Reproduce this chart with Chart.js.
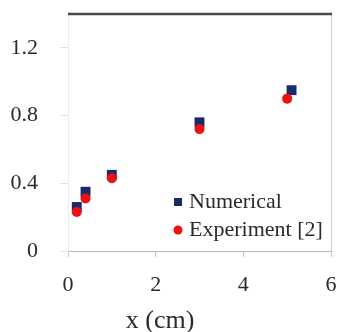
<!DOCTYPE html>
<html>
<head>
<meta charset="utf-8">
<script src="https://cdn.jsdelivr.net/npm/chart.js@4/dist/chart.umd.min.js"></script>
<style>
  html, body { margin: 0; padding: 0; background: #fff; }
  #wrap { width: 339px; height: 332px; }
</style>
</head>
<body>
<div id="wrap"><canvas id="chart"></canvas></div>
<script>
// series read as (x in cm, value)
const numericalX = [0.2, 0.4, 1.0, 3.0, 5.1];
const numericalY = [0.26, 0.35, 0.45, 0.76, 0.95];
const experimentX = [0.2, 0.4, 1.0, 3.0, 5.0];
const experimentY = [0.23, 0.31, 0.43, 0.72, 0.90];
const seriesLabels = ["Numerical", "Experiment [2]"];
const xTicks = [0, 2, 4, 6];
const yTicks = [0, 0.4, 0.8, 1.2];
const xTitle = "x (cm)";

const FONT = "'Liberation Serif', 'Times New Roman', serif";
const NAVY = "#1b2a68";
const RED = "#f01010";

const toPoints = (xs, ys) => xs.map((x, i) => ({ x: x, y: ys[i] }));

// top frame line, right border, legend and x title
const framePlugin = {
  id: "frame",
  afterDraw(chart) {
    const { ctx, chartArea: a } = chart;
    ctx.save();
    ctx.strokeStyle = "#d0d0d0";
    ctx.lineWidth = 1;
    ctx.beginPath();
    ctx.moveTo(a.right + 0.5, a.top);
    ctx.lineTo(a.right + 0.5, a.bottom);
    ctx.stroke();

    ctx.strokeStyle = "#4a4a4a";
    ctx.lineWidth = 2.5;
    ctx.beginPath();
    ctx.moveTo(a.left, a.top);
    ctx.lineTo(a.right + 1, a.top);
    ctx.stroke();

    // legend inside the plot, lower right
    const lx = a.right - 153;
    const rows = [a.bottom - 49, a.bottom - 21];
    ctx.font = "22px " + FONT;
    ctx.textBaseline = "middle";
    ctx.textAlign = "left";
    chart.data.datasets.forEach((ds, i) => {
      const y = rows[i];
      ctx.fillStyle = ds.backgroundColor;
      if (ds.pointStyle === "rect") {
        ctx.fillRect(lx - 4, y - 4, 8, 8);
      } else {
        ctx.beginPath();
        ctx.arc(lx, y, 4.5, 0, Math.PI * 2);
        ctx.fill();
      }
      ctx.fillStyle = "#2a2a2a";
      ctx.fillText(ds.label, lx + 11, y);
    });

    ctx.font = "26px " + FONT;
    ctx.textAlign = "center";
    ctx.fillStyle = "#2a2a2a";
    ctx.fillText(xTitle, a.left + (a.right - a.left) * 0.35, 321);
    ctx.restore();
  }
};

new Chart(document.getElementById("chart"), {
  type: "scatter",
  data: {
    datasets: [
      {
        label: seriesLabels[0],
        data: toPoints(numericalX, numericalY),
        pointStyle: "rect",
        pointRadius: 7,
        pointHoverRadius: 7,
        backgroundColor: NAVY,
        borderColor: NAVY,
        borderWidth: 0,
        order: 1
      },
      {
        label: seriesLabels[1],
        data: toPoints(experimentX, experimentY),
        pointStyle: "circle",
        pointRadius: 5,
        pointHoverRadius: 5,
        backgroundColor: RED,
        borderColor: RED,
        borderWidth: 0,
        order: 0
      }
    ]
  },
  options: {
    responsive: true,
    maintainAspectRatio: false,
    animation: false,
    events: [],
    layout: { padding: { top: 14, right: 8, left: 0, bottom: 0 } },
    plugins: {
      legend: { display: false },
      tooltip: { enabled: false }
    },
    scales: {
      x: {
        type: "linear",
        min: xTicks[0],
        max: xTicks[xTicks.length - 1],
        afterFit: (scale) => {
          scale.height = 81;
          scale.paddingLeft = 0;
          scale.paddingRight = 0;
        },
        afterBuildTicks: (scale) => { scale.ticks = xTicks.map(v => ({ value: v })); },
        grid: { drawOnChartArea: false, tickLength: 6, color: "#c8c8c8" },
        border: { color: "#b8b8b8", width: 1 },
        ticks: {
          padding: 15,
          color: "#2a2a2a",
          font: { family: FONT, size: 22 },
          callback: (v) => String(v)
        }
      },
      y: {
        type: "linear",
        min: 0,
        max: 1.4,
        afterFit: (scale) => {
          scale.width = 68;
          scale.paddingTop = 0;
          scale.paddingBottom = 0;
        },
        afterBuildTicks: (scale) => { scale.ticks = yTicks.map(v => ({ value: v })); },
        grid: { drawOnChartArea: false, tickLength: 8, color: "#e0e0e0" },
        border: { color: "#ececec", width: 1 },
        ticks: {
          padding: 22,
          color: "#2a2a2a",
          font: { family: FONT, size: 22 },
          callback: (v) => String(+v.toFixed(1))
        }
      }
    }
  },
  plugins: [framePlugin]
});
</script>
</body>
</html>
